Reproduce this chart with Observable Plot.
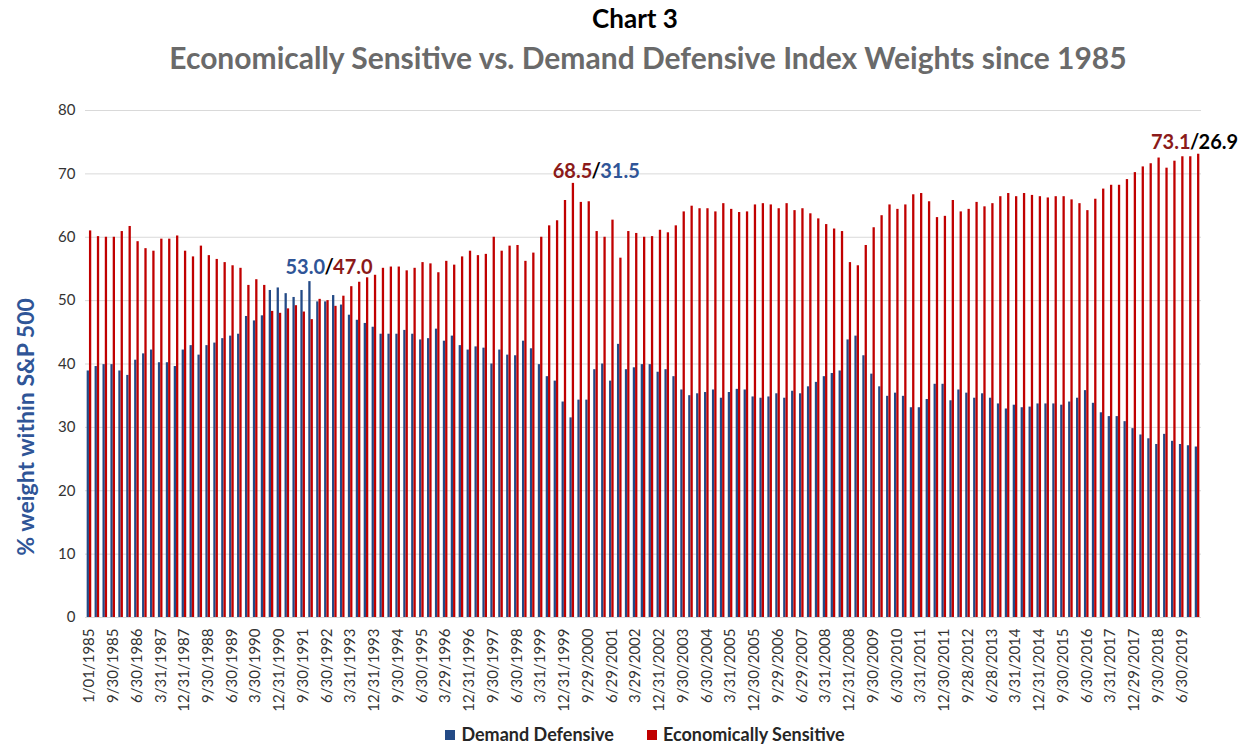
<!DOCTYPE html>
<html>
<head>
<meta charset="utf-8">
<script src="https://cdn.jsdelivr.net/npm/d3@7"></script>
<script src="https://cdn.jsdelivr.net/npm/@observablehq/plot@0.6"></script>
<style>
  html, body { margin: 0; padding: 0; background: #fff; }
  #wrap { position: relative; width: 1249px; height: 747px; font-family: Lato, "Open Sans", sans-serif; }
  #chartno { position: absolute; left: 0; width: 1270px; top: 2px; text-align: center; font-size: 26px; font-weight: bold; color: #000; }
  #title { position: absolute; left: 0; width: 1296px; top: 39px; text-align: center; font-size: 30px; font-weight: bold; color: #6a6a6a; }
  #plot { position: absolute; left: 0; top: 95px; }
  #legend { position: absolute; left: 0; width: 1290px; top: 723px; display: flex; justify-content: center; gap: 33px; font-size: 18px; font-weight: bold; color: #262626; }
  #legend span.sw { display: inline-block; width: 10px; height: 10px; margin-right: 6px; vertical-align: 1px; }
</style>
</head>
<body>
<div id="wrap">
  <div id="chartno">Chart 3</div>
  <div id="title">Economically Sensitive vs. Demand Defensive Index Weights since 1985</div>
  <div id="plot"></div>
  <div id="legend">
    <div><span class="sw" style="background:#234a86"></span>Demand Defensive</div>
    <div><span class="sw" style="background:#c00000"></span>Economically Sensitive</div>
  </div>
</div>
<script>
// Quarterly weights (% of S&P 500), first quarter = 1/01/1985, last = Q4 2019
const demandDefensive = [
  38.9, 39.6, 39.9, 39.9, 38.9, 38.2, 40.6, 41.6, 42.2, 40.2,
  40.2, 39.6, 42.2, 42.9, 41.4, 42.9, 43.3, 44.0, 44.4, 44.7,
  47.5, 46.8, 47.6, 51.6, 52.0, 51.1, 50.5, 51.6, 53.0, 49.8,
  49.8, 50.8, 49.3, 47.7, 46.9, 46.4, 45.8, 44.7, 44.7, 44.7,
  45.3, 44.7, 43.8, 44.0, 45.5, 43.6, 44.4, 42.9, 42.2, 42.7,
  42.5, 40.0, 42.2, 41.4, 41.3, 43.6, 42.4, 39.9, 38.0, 37.3,
  34.0, 31.5, 34.3, 34.3, 39.1, 40.0, 37.3, 43.1, 39.1, 39.4,
  39.9, 39.9, 38.7, 39.1, 38.0, 35.9, 35.0, 35.3, 35.5, 35.9,
  34.6, 35.5, 36.0, 35.9, 34.8, 34.6, 34.8, 35.3, 34.6, 35.7,
  35.3, 36.4, 37.1, 38.0, 38.5, 38.9, 43.8, 44.4, 41.3, 38.4,
  36.4, 34.9, 35.4, 34.9, 33.1, 33.1, 34.4, 36.8, 36.8, 34.2,
  35.9, 35.4, 34.6, 35.3, 34.6, 33.7, 32.9, 33.5, 33.1, 33.2,
  33.7, 33.7, 33.7, 33.5, 34.0, 34.6, 35.8, 33.8, 32.3, 31.7,
  31.7, 30.9, 29.8, 28.8, 28.2, 27.3, 28.9, 27.8, 27.3, 27.1,
  26.9
];
const economicallySensitive = [
  61.0, 60.1, 60.0, 60.0, 60.9, 61.7, 59.3, 58.2, 57.8, 59.7,
  59.7, 60.2, 57.8, 56.9, 58.6, 57.1, 56.5, 56.0, 55.5, 55.1,
  52.4, 53.3, 52.4, 48.3, 48.0, 48.7, 49.2, 48.2, 47.0, 50.2,
  50.0, 49.1, 50.7, 52.2, 52.9, 53.6, 54.0, 55.1, 55.3, 55.3,
  54.7, 55.1, 56.0, 55.8, 54.4, 56.2, 55.6, 56.9, 57.8, 57.1,
  57.3, 60.0, 57.8, 58.6, 58.7, 56.2, 57.5, 60.0, 61.8, 62.6,
  65.8, 68.5, 65.5, 65.6, 60.9, 60.0, 62.7, 56.7, 60.9, 60.6,
  60.0, 60.1, 61.1, 60.7, 61.8, 64.0, 64.9, 64.5, 64.5, 64.0,
  65.3, 64.4, 63.9, 64.0, 65.1, 65.3, 65.1, 64.5, 65.3, 64.2,
  64.5, 63.7, 62.9, 62.0, 61.3, 60.9, 56.0, 55.5, 58.7, 61.5,
  63.4, 65.1, 64.4, 65.1, 66.7, 66.9, 65.6, 63.1, 63.3, 65.8,
  64.0, 64.4, 65.5, 64.8, 65.3, 66.4, 66.9, 66.4, 66.9, 66.6,
  66.4, 66.2, 66.4, 66.4, 65.9, 65.3, 64.2, 66.0, 67.6, 68.2,
  68.2, 69.1, 70.2, 71.1, 71.6, 72.5, 70.9, 72.0, 72.7, 72.7,
  73.1
];
// Category axis labels, one every third quarter
const tickLabels = [
  "1/01/1985", "9/30/1985", "6/30/1986", "3/31/1987", "12/31/1987", "9/30/1988",
  "6/30/1989", "3/30/1990", "12/31/1990", "9/30/1991", "6/30/1992", "3/31/1993",
  "12/31/1993", "9/30/1994", "6/30/1995", "3/29/1996", "12/31/1996", "9/30/1997",
  "6/30/1998", "3/31/1999", "12/31/1999", "9/29/2000", "6/29/2001", "3/29/2002",
  "12/31/2002", "9/30/2003", "6/30/2004", "3/31/2005", "12/30/2005", "9/29/2006",
  "6/29/2007", "3/31/2008", "12/31/2008", "9/30/2009", "6/30/2010", "3/31/2011",
  "12/30/2011", "9/28/2012", "6/28/2013", "3/31/2014", "12/31/2014", "9/30/2015",
  "6/30/2016", "3/31/2017", "12/29/2017", "9/30/2018", "6/30/2019"
];
const yTicks = [0, 10, 20, 30, 40, 50, 60, 70, 80];
// Annotated quarters (index into the arrays)
const annoDefensivePeak = 28;
const annoSensitivePeak = 61;
const annoLatest = 140;

const BLUE = "#234a86", RED = "#c00000", ABLUE = "#2f5597", ARED = "#8b1a1a";

const n = demandDefensive.length;
const data = demandDefensive.map((d, i) => ({i, def: d, sens: economicallySensitive[i]}));

const width = 1249, mL = 85, mR = 48;
const step = (width - mL - mR) / n;
const bw = step * 0.58;

function anno(idx, yKey, leftTxt, leftCol, rightTxt, rightCol, dx, dy) {
  const d = [data[idx]];
  const base = {x: "i", y: yKey, dy, fontSize: 20, fontWeight: "bold", fontFamily: "Lato"};
  return [
    Plot.text(d, {...base, text: () => leftTxt, fill: leftCol, textAnchor: "end", dx: dx - 4}),
    Plot.text(d, {...base, text: () => "/", fill: "#000", textAnchor: "middle", dx: dx}),
    Plot.text(d, {...base, text: () => rightTxt, fill: rightCol, textAnchor: "start", dx: dx + 4})
  ];
}

const chart = Plot.plot({
  width, height: 620,
  marginTop: 15, marginBottom: 98, marginLeft: mL, marginRight: mR,
  style: {fontFamily: "Lato, 'Open Sans', sans-serif", background: "white", overflow: "visible"},
  x: {type: "band", domain: d3.range(n), paddingInner: 0.42, paddingOuter: 0.21, axis: null},
  y: {domain: [0, 80], axis: null},
  marks: [
    Plot.gridY(yTicks, {stroke: "#d9d9d9", strokeOpacity: 1, strokeWidth: 1}),
    Plot.axisY(yTicks, {tickSize: 0, tickPadding: 10, label: null, fontSize: 15, fill: "#333"}),
    Plot.axisX(d3.range(0, n, 3), {tickFormat: i => tickLabels[i / 3], tickRotate: -90, tickSize: 0, tickPadding: 11, label: null, fontSize: 15, fill: "#333"}),
    Plot.barY(data, {x: "i", y: "def", fill: BLUE, insetRight: bw / 2}),
    Plot.barY(data, {x: "i", y: "sens", fill: RED, insetLeft: bw / 2}),
    Plot.text(["% weight within S&P 500"], {frameAnchor: "left", textAnchor: "middle", rotate: -90, dx: -59, dy: 63, fontSize: 23, fontWeight: "bold", fill: "#2f5597"}),
    ...anno(annoDefensivePeak, "def", "53.0", ABLUE, "47.0", ARED, 18, -14),
    ...anno(annoSensitivePeak, "sens", "68.5", ARED, "31.5", ABLUE, 24, -12),
    ...anno(annoLatest, "sens", "73.1", ARED, "26.9", "#000", -3, -12)
  ]
});
document.getElementById("plot").appendChild(chart);
</script>
</body>
</html>
